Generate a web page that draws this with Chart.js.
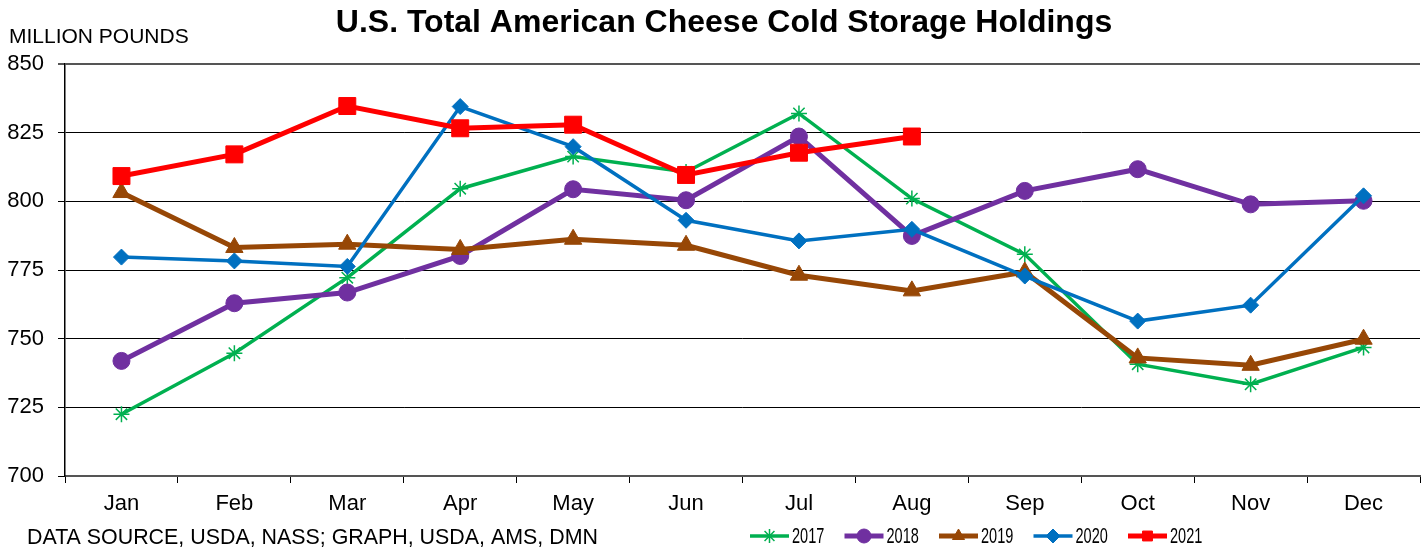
<!DOCTYPE html>
<html>
<head>
<meta charset="utf-8">
<script src="https://cdn.jsdelivr.net/npm/chart.js@4.4.1/dist/chart.umd.min.js"></script>
<style>
  html, body { margin: 0; padding: 0; background: #fff; }
  #wrap { width: 1428px; height: 552px; }
</style>
</head>
<body>
<div id="wrap"><canvas id="c" width="1428" height="552"></canvas></div>
<script>
// U.S. Total American Cheese Cold Storage Holdings
const MONTHS = ['Jan', 'Feb', 'Mar', 'Apr', 'May', 'Jun', 'Jul', 'Aug', 'Sep', 'Oct', 'Nov', 'Dec'];
const Y2017 = [722.5, 744.7, 772.2, 804.6, 816.3, 810.7, 832.0, 801.0, 780.7, 740.7, 733.4, 746.8];
const Y2018 = [741.9, 762.9, 766.8, 780.1, 804.4, 800.4, 823.6, 787.4, 803.8, 811.7, 798.9, 800.2];
const Y2019 = [803.2, 783.2, 784.4, 782.5, 786.2, 784.0, 773.1, 767.4, 774.3, 743.0, 740.3, 749.8];
const Y2020 = [779.7, 778.3, 776.3, 834.5, 819.9, 793.1, 785.6, 789.8, 772.8, 756.4, 762.2, 802.0];
const Y2021 = [809.2, 817.1, 834.7, 826.6, 827.9, 809.6, 817.7, 823.6, null, null, null, null];
const Y_TICKS = [700, 725, 750, 775, 800, 825, 850];

const FONT = "Arial, 'Liberation Sans', sans-serif";

function series(label, data, color, style, radius, width, order) {
  return {
    label, data, order,
    borderColor: color,
    backgroundColor: color,
    borderWidth: width,
    pointStyle: style,
    pointRadius: radius,
    pointHoverRadius: radius,
    pointBorderWidth: style === 'star' ? 1.5 : 1,
    pointBorderColor: color,
    pointBackgroundColor: color,
    tension: 0,
    spanGaps: false,
    clip: false,
  };
}

const datasets = [
  series('2017', Y2017, '#00b050', 'star', 8, 3.5, 4),
  series('2018', Y2018, '#7030a0', 'circle', 8.5, 5, 3),
  series('2019', Y2019, '#974706', 'triangle', 10, 5, 2),
  series('2020', Y2020, '#0070c0', 'rectRot', 8, 3.5, 1),
  series('2021', Y2021, '#ff0000', 'rect', 12, 5, 0),
];

// Texts and legend drawn by hand
const textPlugin = {
  id: 'texts',
  afterDraw(chart) {
    const ctx = chart.ctx;
    ctx.save();
    ctx.fillStyle = '#000';
    ctx.textBaseline = 'middle';

    ctx.font = 'bold 32px ' + FONT;
    ctx.textAlign = 'center';
    ctx.fillText('U.S. Total American Cheese Cold Storage Holdings', 724, 23);

    ctx.font = '21px ' + FONT;
    ctx.textAlign = 'left';
    ctx.fillText('MILLION POUNDS', 9, 37);
    ctx.font = '21.4px ' + FONT;
    ctx.fillText('DATA SOURCE, USDA, NASS; GRAPH, USDA, AMS, DMN', 27, 538);

    // legend
    const y = 536;
    chart.data.datasets.forEach((ds, i) => {
      const x0 = 750 + i * 94.5;
      ctx.strokeStyle = ds.borderColor;
      ctx.lineWidth = ds.borderWidth;
      ctx.beginPath();
      ctx.moveTo(x0, y);
      ctx.lineTo(x0 + 39, y);
      ctx.stroke();
      ctx.fillStyle = ds.pointBackgroundColor;
      ctx.strokeStyle = ds.pointBorderColor;
      ctx.lineWidth = ds.pointBorderWidth;
      Chart.helpers.drawPoint(ctx, {
        pointStyle: ds.pointStyle,
        radius: Math.min(ds.pointRadius, 7),
        rotation: 0,
        borderWidth: ds.pointBorderWidth,
      }, x0 + 19.5, y);
      ctx.save();
      ctx.fillStyle = '#000';
      ctx.font = '22px ' + FONT;
      ctx.translate(x0 + 42, y);
      ctx.scale(0.66, 1);
      ctx.textAlign = 'left';
      ctx.fillText(ds.label, 0, 1);
      ctx.restore();
    });
    ctx.restore();
  }
};

new Chart(document.getElementById('c'), {
  type: 'line',
  data: { labels: MONTHS, datasets },
  options: {
    responsive: false,
    animation: false,
    events: [],
    layout: { autoPadding: false, padding: { top: 64, right: 8, bottom: 0, left: 0 } },
    plugins: {
      legend: { display: false },
      title: { display: false },
      tooltip: { enabled: false },
    },
    scales: {
      x: {
        offset: true,
        grid: {
          offset: true,
          drawOnChartArea: false,
          drawTicks: true,
          tickLength: 7,
          color: '#000',
          lineWidth: 1,
        },
        border: { color: '#555', width: 2 },
        ticks: {
          color: '#000',
          font: { family: FONT, size: 22 },
          padding: 8,
          maxRotation: 0,
          autoSkip: false,
        },
        afterFit(scale) {
          scale.height = 76;
          scale.paddingLeft = 0;
          scale.paddingRight = 0;
        },
      },
      y: {
        min: 700,
        max: 850,
        afterBuildTicks(scale) { scale.ticks = Y_TICKS.map(v => ({ value: v })); },
        grid: {
          color: ctx => (ctx.tick && ctx.tick.value === 850 ? '#555' : '#000'),
          lineWidth: ctx => (ctx.tick && ctx.tick.value === 850 ? 2 : 1),
          tickLength: 7,
        },
        border: { color: '#000', width: 1.5 },
        ticks: {
          color: '#000',
          font: { family: FONT, size: 22 },
          padding: 14,
        },
        afterFit(scale) { scale.width = 65; },
      },
    },
  },
  plugins: [textPlugin],
});
</script>
</body>
</html>
